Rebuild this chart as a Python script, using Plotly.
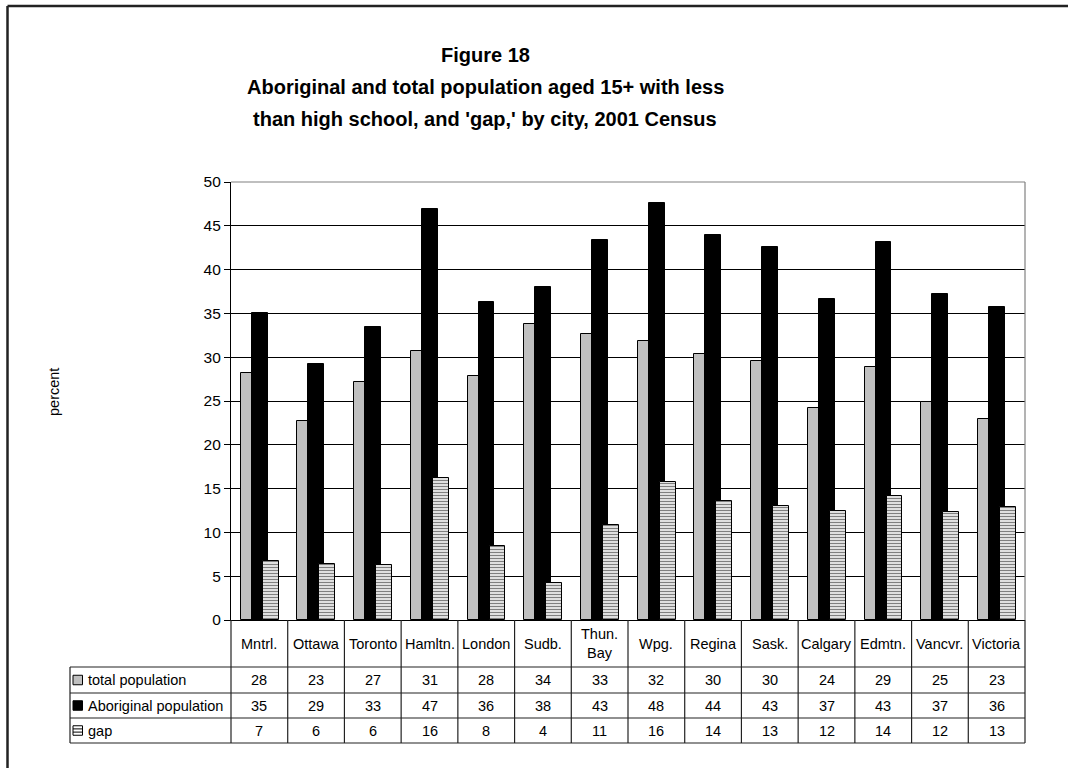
import plotly.graph_objects as go

# ---------------- data ----------------
cities = ["Mntrl.", "Ottawa", "Toronto", "Hamltn.", "London", "Sudb.", "Thun.<br>Bay",
          "Wpg.", "Regina", "Sask.", "Calgary", "Edmtn.", "Vancvr.", "Victoria"]
total_pop = [28.2, 22.7, 27.2, 30.7, 27.8, 33.8, 32.7, 31.8, 30.4, 29.6, 24.2, 28.9, 24.9, 22.9]
aboriginal_pop = [35.0, 29.2, 33.4, 46.9, 36.3, 38.0, 43.4, 47.6, 44.0, 42.6, 36.7, 43.1, 37.2, 35.7]
gap = [6.7, 6.4, 6.3, 16.2, 8.4, 4.2, 10.8, 15.8, 13.6, 13.0, 12.4, 14.2, 12.3, 12.9]
series_names = ["total population", "Aboriginal population", "gap"]
y_ticks = [0, 5, 10, 15, 20, 25, 30, 35, 40, 45, 50]
title_lines = ["Figure 18",
               "Aboriginal and total population aged 15+ with less",
               "than high school, and 'gap,' by city, 2001 Census"]

# ---------------- layout geometry ----------------
W, H = 1068, 768
PL, PR, PT, PB = 231, 1025, 182, 620   # plot area in px
FONT = "Liberation Sans, Arial, sans-serif"


def px(x):
    return (x - PL) / (PR - PL)


def py(y):
    return (PB - y) / (PB - PT)


n = len(cities)
xs = list(range(n))
bar_w = 0.28

fig = go.Figure()
fig.add_trace(go.Bar(x=xs, y=total_pop, name=series_names[0], width=bar_w, offset=-0.33,
                     marker=dict(color="#c0c0c0", line=dict(color="black", width=1))))
fig.add_trace(go.Bar(x=xs, y=aboriginal_pop, name=series_names[1], width=bar_w, offset=-0.136,
                     marker=dict(color="black", line=dict(color="black", width=1))))
fig.add_trace(go.Bar(x=xs, y=gap, name=series_names[2], width=bar_w, offset=0.058,
                     marker=dict(color="white", line=dict(color="black", width=1),
                                 pattern=dict(shape="-", fgcolor="black", bgcolor="white",
                                              size=3, solidity=0.5))))

shapes = []
annotations = []

# outer chart border (extends beyond the visible page on right / bottom)
shapes.append(dict(type="line", xref="paper", yref="paper", x0=px(7.5), x1=px(1075), y0=py(6), y1=py(6),
                   line=dict(color="#222", width=2.5)))
shapes.append(dict(type="line", xref="paper", yref="paper", x0=px(7.5), x1=px(7.5), y0=py(6), y1=py(775),
                   line=dict(color="#222", width=2.5)))

# plot area gray border top/right
shapes.append(dict(type="line", xref="paper", yref="paper", x0=0, x1=1, y0=1, y1=1,
                   line=dict(color="#808080", width=1.2)))
shapes.append(dict(type="line", xref="paper", yref="paper", x0=1, x1=1, y0=0, y1=1,
                   line=dict(color="#808080", width=1.2)))

# data table
row_y = [620, 667, 693, 718, 743]
tl = dict(color="#222", width=1.2)
for i in range(n + 1):
    if i == 0:
        shapes.append(dict(type="line", xref="paper", yref="paper", x0=0, x1=0,
                           y0=py(row_y[0]), y1=py(row_y[-1]), line=tl))
    elif i == n:
        shapes.append(dict(type="line", xref="paper", yref="paper", x0=1, x1=1,
                           y0=py(row_y[0]), y1=py(row_y[-1]), line=tl))
    else:
        shapes.append(dict(type="line", xref="x", yref="paper", x0=i - 0.5, x1=i - 0.5,
                           y0=py(row_y[0]), y1=py(row_y[-1]), line=tl))
for yy in row_y[1:]:
    shapes.append(dict(type="line", xref="paper", yref="paper", x0=px(70), x1=1,
                       y0=py(yy), y1=py(yy), line=tl))
shapes.append(dict(type="line", xref="paper", yref="paper", x0=px(70), x1=px(70),
                   y0=py(row_y[1]), y1=py(row_y[-1]), line=tl))

# category header labels
for i, c in enumerate(cities):
    annotations.append(dict(x=i, y=py((row_y[0] + row_y[1]) / 2), xref="x", yref="paper",
                            text=c, showarrow=False, font=dict(family=FONT, size=14.5, color="black"),
                            xanchor="center", yanchor="middle"))

# value rows
series_vals = [total_pop, aboriginal_pop, gap]
for r, vals in enumerate(series_vals):
    yc = (row_y[r + 1] + row_y[r + 2]) / 2
    for i, v in enumerate(vals):
        annotations.append(dict(x=i, y=py(yc), xref="x", yref="paper", text=f"{v:.0f}",
                                showarrow=False, font=dict(family=FONT, size=14.5, color="black"),
                                xanchor="center", yanchor="middle"))
    annotations.append(dict(x=px(85.5), y=py(yc), xref="paper", yref="paper", text=series_names[r],
                            showarrow=False, font=dict(family=FONT, size=14.5, color="black"),
                            xanchor="left", yanchor="middle"))
    k0, k1 = 73, 82.5
    yt, yb = yc - 4.75, yc + 4.75
    if r == 0:
        shapes.append(dict(type="rect", xref="paper", yref="paper", x0=px(k0), x1=px(k1),
                           y0=py(yb), y1=py(yt), fillcolor="#c0c0c0", line=dict(color="black", width=1)))
    elif r == 1:
        shapes.append(dict(type="rect", xref="paper", yref="paper", x0=px(k0), x1=px(k1),
                           y0=py(yb), y1=py(yt), fillcolor="black", line=dict(color="black", width=1)))
    else:
        shapes.append(dict(type="rect", xref="paper", yref="paper", x0=px(k0), x1=px(k1),
                           y0=py(yb), y1=py(yt), fillcolor="white", line=dict(color="black", width=1)))
        for dy in (-1.6, 1.6):
            shapes.append(dict(type="line", xref="paper", yref="paper", x0=px(k0), x1=px(k1),
                               y0=py(yc + dy), y1=py(yc + dy), line=dict(color="black", width=1)))

# title
for t, yy in zip(title_lines, [55, 87, 119]):
    annotations.append(dict(x=px(485), y=py(yy), xref="paper", yref="paper", text=f"<b>{t}</b>",
                            showarrow=False, font=dict(family=FONT, size=20, color="black"),
                            xanchor="center", yanchor="middle"))

# y axis title
annotations.append(dict(x=px(54), y=py(392), xref="paper", yref="paper", text="percent",
                        textangle=-90, showarrow=False, font=dict(family=FONT, size=14.5, color="black"),
                        xanchor="center", yanchor="middle"))

fig.update_layout(
    width=W, height=H,
    margin=dict(l=PL, r=W - PR, t=PT, b=H - PB, pad=0),
    paper_bgcolor="white", plot_bgcolor="white",
    barmode="overlay", bargap=0,
    showlegend=False,
    font=dict(family=FONT, color="black"),
    xaxis=dict(range=[-0.5, n - 0.5], showticklabels=False, ticks="", showgrid=False,
               showline=True, linecolor="black", linewidth=1.2, zeroline=False, fixedrange=True),
    yaxis=dict(range=[0, 50], tickvals=y_ticks, ticktext=[str(v) for v in y_ticks],
               ticks="outside", ticklen=6, tickcolor="black", tickwidth=1,
               tickfont=dict(family=FONT, size=15.5, color="black"),
               showgrid=True, gridcolor="black", gridwidth=1,
               showline=True, linecolor="black", linewidth=1.2, zeroline=False),
    shapes=shapes,
    annotations=annotations,
)

fig.write_html("out.html", config={"displayModeBar": False},
               post_script="document.body.style.margin='0';document.body.style.overflow='hidden';")
